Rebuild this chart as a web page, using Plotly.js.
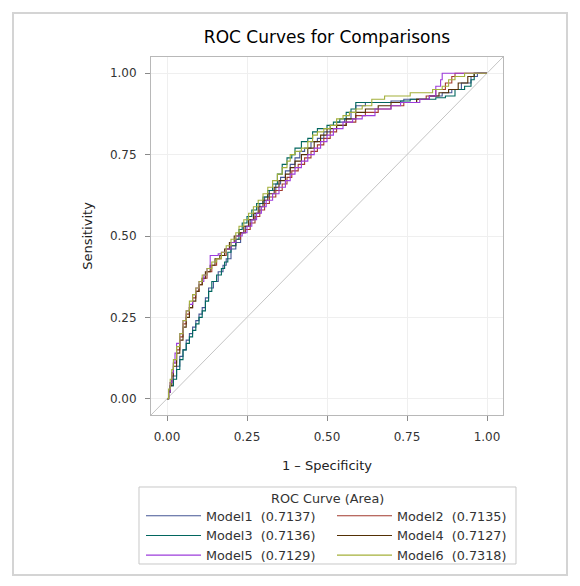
<!DOCTYPE html>
<html>
<head>
<meta charset="utf-8">
<script src="https://cdn.plot.ly/plotly-3.0.1.min.js"></script>
<style>
html,body{margin:0;padding:0;background:#fff;}
#wrap{position:relative;width:580px;height:586px;}
#chart{width:580px;height:586px;}
#frame{position:absolute;left:12px;top:12px;width:552px;height:560px;border:2px solid #d4d4d4;pointer-events:none;}
</style>
</head>
<body>
<div id="wrap"><div id="chart"></div><div id="frame"></div></div>
<script>
// ---- data ----
const modelNames = ["Model1", "Model2", "Model3", "Model4", "Model5", "Model6"];
const modelAreas = ["0.7137", "0.7135", "0.7136", "0.7127", "0.7129", "0.7318"];
const legendTitle = "ROC Curve (Area)";

const fpr1 = [0,0.005,0.01,0.02,0.03,0.04,0.05,0.06,0.07,0.08,0.09,0.10,0.11,0.12,0.13,0.145,0.16,0.175,0.185,0.20,0.215,0.23,0.245,0.26,0.275,0.29,0.305,0.32,0.34,0.355,0.37,0.385,0.40,0.415,0.43,0.45,0.47,0.49,0.51,0.53,0.555,0.575,0.59,0.62,0.66,0.70,0.74,0.78,0.82,0.86,0.89,0.92,0.95,0.97,1.0];
const tpr1 = [0,0.02,0.04,0.07,0.10,0.13,0.15,0.18,0.20,0.22,0.24,0.26,0.28,0.31,0.34,0.36,0.39,0.41,0.43,0.46,0.48,0.51,0.53,0.55,0.57,0.60,0.62,0.64,0.66,0.68,0.70,0.72,0.74,0.76,0.77,0.79,0.80,0.82,0.84,0.85,0.86,0.88,0.90,0.91,0.91,0.915,0.92,0.92,0.93,0.94,0.95,0.97,0.99,1.0,1.0];

const fpr2 = [0,0.005,0.01,0.015,0.02,0.03,0.04,0.05,0.06,0.07,0.08,0.09,0.10,0.11,0.125,0.14,0.155,0.17,0.185,0.20,0.215,0.23,0.245,0.26,0.275,0.29,0.305,0.32,0.34,0.36,0.375,0.39,0.41,0.43,0.45,0.47,0.49,0.51,0.53,0.56,0.59,0.62,0.66,0.70,0.74,0.78,0.81,0.84,0.87,0.89,0.90,1.0];
const tpr2 = [0,0.02,0.05,0.08,0.11,0.15,0.19,0.23,0.26,0.28,0.31,0.33,0.35,0.37,0.39,0.41,0.43,0.44,0.46,0.47,0.49,0.51,0.52,0.54,0.56,0.58,0.60,0.62,0.64,0.66,0.68,0.70,0.72,0.74,0.76,0.78,0.80,0.82,0.84,0.85,0.87,0.88,0.89,0.90,0.91,0.92,0.93,0.95,0.97,0.99,1.0,1.0];

const fpr3 = [0,0.005,0.01,0.02,0.03,0.04,0.05,0.06,0.07,0.08,0.09,0.10,0.11,0.12,0.13,0.14,0.155,0.17,0.18,0.19,0.20,0.215,0.225,0.235,0.25,0.265,0.28,0.30,0.315,0.33,0.345,0.36,0.375,0.39,0.40,0.42,0.44,0.455,0.47,0.50,0.52,0.54,0.56,0.575,0.59,0.62,0.65,0.68,0.70,0.73,0.76,0.80,0.84,0.87,0.90,0.93,0.95,0.96,1.0];
const tpr3 = [0,0.02,0.04,0.06,0.09,0.12,0.15,0.17,0.19,0.21,0.23,0.25,0.27,0.30,0.33,0.36,0.38,0.40,0.42,0.45,0.47,0.49,0.52,0.54,0.56,0.58,0.60,0.62,0.64,0.66,0.69,0.72,0.74,0.75,0.77,0.79,0.80,0.82,0.83,0.84,0.85,0.86,0.88,0.89,0.91,0.91,0.91,0.91,0.91,0.915,0.92,0.92,0.925,0.93,0.95,0.96,0.98,1.0,1.0];

const fpr4 = [0,0.005,0.01,0.015,0.02,0.03,0.04,0.05,0.06,0.07,0.08,0.09,0.10,0.11,0.12,0.135,0.15,0.165,0.18,0.195,0.21,0.225,0.24,0.255,0.27,0.285,0.30,0.315,0.335,0.35,0.37,0.385,0.40,0.42,0.44,0.46,0.48,0.50,0.53,0.56,0.59,0.62,0.66,0.70,0.74,0.78,0.82,0.85,0.88,0.91,0.94,0.96,1.0];
const tpr4 = [0,0.02,0.04,0.07,0.10,0.14,0.18,0.22,0.25,0.28,0.30,0.33,0.35,0.37,0.39,0.41,0.43,0.44,0.46,0.48,0.50,0.51,0.53,0.55,0.57,0.59,0.61,0.63,0.65,0.67,0.69,0.71,0.73,0.75,0.77,0.79,0.81,0.83,0.84,0.86,0.88,0.89,0.90,0.91,0.91,0.92,0.93,0.94,0.95,0.97,0.99,1.0,1.0];

const fpr5 = [0,0.005,0.01,0.015,0.02,0.025,0.03,0.04,0.05,0.06,0.07,0.08,0.09,0.10,0.115,0.125,0.135,0.16,0.17,0.185,0.20,0.215,0.235,0.25,0.265,0.28,0.295,0.31,0.33,0.35,0.37,0.385,0.40,0.42,0.44,0.46,0.48,0.50,0.52,0.55,0.58,0.61,0.65,0.70,0.73,0.76,0.79,0.82,0.84,0.855,0.86,1.0];
const tpr5 = [0,0.02,0.05,0.08,0.11,0.14,0.17,0.20,0.24,0.27,0.29,0.32,0.34,0.36,0.38,0.40,0.44,0.445,0.45,0.46,0.48,0.50,0.51,0.53,0.55,0.57,0.59,0.61,0.63,0.65,0.67,0.69,0.71,0.73,0.75,0.77,0.79,0.81,0.83,0.85,0.86,0.87,0.89,0.90,0.91,0.91,0.92,0.93,0.96,0.98,1.0,1.0];

const fpr6 = [0,0.005,0.01,0.015,0.02,0.03,0.04,0.05,0.06,0.07,0.08,0.09,0.10,0.11,0.125,0.14,0.155,0.17,0.185,0.20,0.215,0.225,0.24,0.255,0.27,0.285,0.30,0.315,0.33,0.345,0.36,0.375,0.385,0.40,0.42,0.44,0.455,0.47,0.49,0.51,0.53,0.55,0.57,0.59,0.61,0.64,0.68,0.72,0.76,0.80,0.83,0.86,0.88,0.90,0.93,1.0];
const tpr6 = [0,0.03,0.06,0.09,0.12,0.16,0.20,0.24,0.27,0.30,0.32,0.34,0.36,0.38,0.40,0.42,0.43,0.45,0.47,0.49,0.51,0.53,0.55,0.57,0.59,0.61,0.63,0.65,0.67,0.69,0.71,0.73,0.75,0.76,0.77,0.79,0.81,0.82,0.83,0.84,0.86,0.87,0.88,0.89,0.90,0.92,0.93,0.93,0.94,0.94,0.95,0.96,0.98,0.99,1.0,1.0];

const xTickVals = [0, 0.25, 0.5, 0.75, 1];
const xTickText = ["0.00", "0.25", "0.50", "0.75", "1.00"];
const yTickVals = [0, 0.25, 0.5, 0.75, 1];
const yTickText = ["0.00", "0.25", "0.50", "0.75", "1.00"];
const axisRange = [-0.05, 1.05];

// ---- styles ----
const lineColors = ["#445694", "#A23A2E", "#01665E", "#543005", "#9D3CDB", "#A4B03A"];
const legendOf = ["legend", "legend2", "legend", "legend2", "legend", "legend2"];
const fprs = [fpr1, fpr2, fpr3, fpr4, fpr5, fpr6];
const tprs = [tpr1, tpr2, tpr3, tpr4, tpr5, tpr6];
const FONT = "DejaVu Sans, sans-serif";

const traces = [];
// chance diagonal across the whole axis range
traces.push({
  x: axisRange, y: axisRange, mode: "lines", type: "scatter",
  line: {color: "#c4c4c4", width: 1}, showlegend: false, hoverinfo: "skip"
});
modelNames.forEach((nm, i) => {
  traces.push({
    x: fprs[i], y: tprs[i], type: "scatter", mode: "lines",
    name: nm + "\u00a0\u00a0(" + modelAreas[i] + ")",
    legend: legendOf[i],
    line: {color: lineColors[i], width: 1.1, shape: "hv"}
  });
});

const axisCommon = {
  range: axisRange, showline: true, mirror: true, linecolor: "#b8b8b8", linewidth: 1,
  showgrid: true, gridcolor: "#efefef", zeroline: false,
  ticks: "outside", ticklen: 5, tickcolor: "#8a8a8a", tickwidth: 1,
  ticklabelstandoff: 6,
  tickfont: {family: FONT, size: 12, color: "#333"}, tickmode: "array"
};

const legendCommon = {
  orientation: "v", xanchor: "left", yanchor: "top",
  borderwidth: 0, bgcolor: "rgba(0,0,0,0)", itemwidth: 55,
  font: {family: FONT, size: 12.8, color: "#333"},
  traceorder: "normal", itemclick: false
};

const layout = {
  width: 580, height: 586,
  margin: {l: 151, r: 77, t: 57, b: 171},
  paper_bgcolor: "#fff", plot_bgcolor: "#fff",
  title: {text: "ROC Curves for Comparisons", x: 0.5, xref: "paper", xanchor: "center", y: 0.937, yref: "container", yanchor: "middle",
          font: {family: FONT, size: 17, color: "#000"}},
  xaxis: Object.assign({}, axisCommon, {
    tickvals: xTickVals, ticktext: xTickText,
    title: {text: "1 \u2013 Specificity", standoff: 17, font: {family: FONT, size: 13, color: "#222"}}
  }),
  yaxis: Object.assign({}, axisCommon, {
    tickvals: yTickVals, ticktext: yTickText,
    title: {text: "Sensitivity", standoff: 14, font: {family: FONT, size: 13, color: "#222"}}
  }),
  showlegend: true,
  legend: Object.assign({}, legendCommon, {x: -0.0284, y: -0.2402}),
  legend2: Object.assign({}, legendCommon, {x: 0.5142, y: -0.2402}),
  shapes: [{
    type: "rect", xref: "paper", yref: "paper",
    x0: -0.0341, x1: 1.0369, y0: -0.2011, y1: -0.4162,
    line: {color: "#c8c8c8", width: 1}, fillcolor: "rgba(0,0,0,0)", layer: "below"
  }],
  annotations: [{
    text: legendTitle, xref: "paper", yref: "paper", x: 0.5014, y: -0.2346,
    xanchor: "center", yanchor: "middle", showarrow: false,
    font: {family: FONT, size: 12.8, color: "#333"}
  }]
};

Plotly.newPlot("chart", traces, layout, {displayModeBar: false, staticPlot: true});
</script>
</body>
</html>
